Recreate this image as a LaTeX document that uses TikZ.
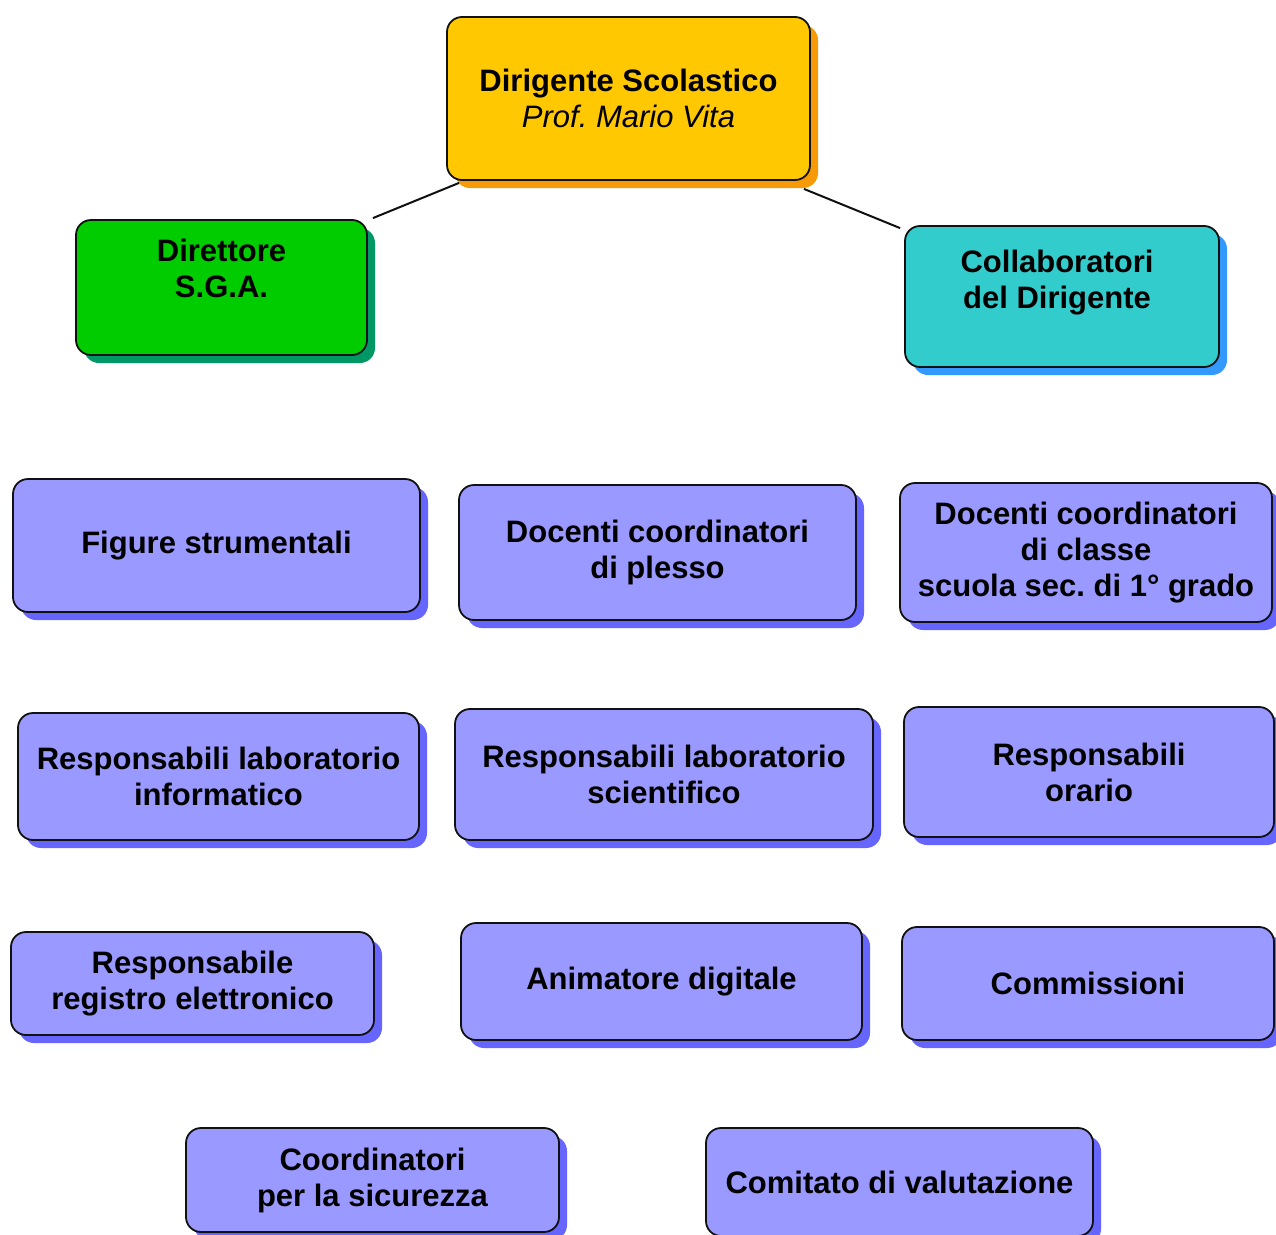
\documentclass[tikz,border=0pt]{standalone}
\usepackage{fontspec}
\setmainfont{Liberation Sans}
\usetikzlibrary{shadows,calc}
\definecolor{yfill}{HTML}{FFC800}
\definecolor{yshad}{HTML}{F79A08}
\definecolor{gfill}{HTML}{00CC00}
\definecolor{gshad}{HTML}{009966}
\definecolor{cfill}{HTML}{33CCCC}
\definecolor{cshad}{HTML}{3399FF}
\definecolor{bfill}{HTML}{9999FF}
\definecolor{bshad}{HTML}{6666FF}
\definecolor{edge}{HTML}{111111}
\tikzset{
  box/.style={draw=edge, line width=1.8pt, rounded corners=15pt, inner sep=0pt,
    align=center, font=\fontsize{31}{36}\selectfont\bfseries\frenchspacing},
  bluebox/.style={box, fill=bfill,
    drop shadow={shadow xshift=8pt, shadow yshift=-8pt, fill=bshad, opacity=1}},
  conn/.style={draw=edge, line width=2pt}
}
\begin{document}
\begin{tikzpicture}[x=1pt,y=-1pt]
\useasboundingbox (0,0) rectangle (1276,1234);
\fill[white] (0,0) rectangle (1276,1234);

\node[box, fill=yfill, drop shadow={shadow xshift=8pt, shadow yshift=-8pt, fill=yshad, opacity=1},
  minimum width=363pt, minimum height=163pt] (ds) at (628.5,98.5)
  {Dirigente Scolastico\\{\mdseries\itshape Prof. Mario Vita}};

\node[box, fill=gfill, drop shadow={shadow xshift=8pt, shadow yshift=-8pt, fill=gshad, opacity=1},
  minimum width=291pt, minimum height=135pt] (dsga) at (221.5,287.5)
  {Direttore\\S.G.A.\\[-8pt]\strut};

\node[box, fill=cfill, drop shadow={shadow xshift=8pt, shadow yshift=-8pt, fill=cshad, opacity=1},
  minimum width=314pt, minimum height=141pt] (col) at (1062,296.5)
  {\hspace*{-10pt}Collaboratori\\\hspace*{-10pt}del Dirigente\\[-12pt]\strut};

\draw[conn] ($(ds.south west)+(13,2)$) -- ($(dsga.north east)+(5,-1)$);
\draw[conn] ($(ds.south east)+(-7,8)$) -- ($(col.north west)+(-4,3)$);

\node[bluebox, minimum width=407pt, minimum height=133pt] (fs) at (216.5,545.5) {Figure strumentali};
\node[bluebox, minimum width=397pt, minimum height=135pt] (dp) at (657.5,552.5) {Docenti coordinatori\\di plesso};
\node[bluebox, minimum width=372pt, minimum height=139pt] (dc) at (1086,552.5) {Docenti coordinatori\\di classe\\scuola sec. di 1° grado};

\node[bluebox, minimum width=401pt, minimum height=127pt] (li) at (218.5,776.5) {Responsabili laboratorio\\informatico};
\node[bluebox, minimum width=418pt, minimum height=131pt] (ls) at (664,774.5) {Responsabili laboratorio\\scientifico};
\node[bluebox, minimum width=370pt, minimum height=130pt] (ro) at (1089,772) {Responsabili\\orario};

\node[bluebox, minimum width=363pt, minimum height=103pt] (re) at (192.5,983.5) {Responsabile\\registro elettronico};
\node[bluebox, minimum width=401pt, minimum height=117pt] (ad) at (661.5,981.5) {Animatore digitale};
\node[bluebox, minimum width=372pt, minimum height=113pt] (cm) at (1088,983.5) {Commissioni};

\node[bluebox, minimum width=373pt, minimum height=104pt] (cs) at (372.5,1180) {Coordinatori\\per la sicurezza};
\node[bluebox, minimum width=387pt, minimum height=108pt] (cv) at (899.5,1182) {Comitato di valutazione};
\end{tikzpicture}
\end{document}
